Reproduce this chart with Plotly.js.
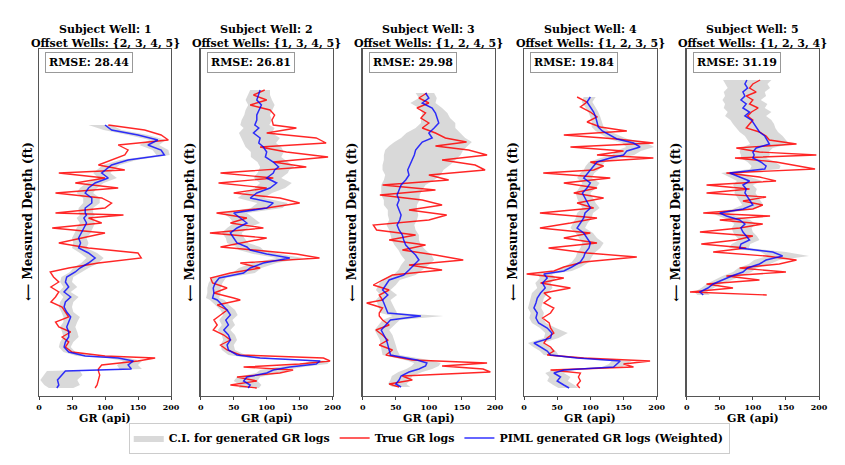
<!DOCTYPE html>
<html>
<head>
<meta charset="utf-8">
<script src="https://cdn.plot.ly/plotly-3.0.1.min.js"></script>
<style>html,body{margin:0;padding:0;background:#fff;}#chart{width:845px;height:465px;}</style>
</head>
<body>
<div id="chart"></div>
<script>
// ---- labels ----
const subjectWells = [1, 2, 3, 4, 5];
const offsetWells = ['{2, 3, 4, 5}', '{1, 3, 4, 5}', '{1, 2, 4, 5}', '{1, 2, 3, 5}', '{1, 2, 3, 4}'];
const rmseValues = [28.44, 26.81, 29.98, 19.84, 31.19];
const xTickVals = [0, 50, 100, 150, 200];
const legendNames = ['C.I. for generated GR logs', 'True GR logs', 'PIML generated GR logs (Weighted)'];

// ---- Well 1 ----
const depth1 = [760,810,860,910,960,1010,1060,1110,1160,1210,1240,1290,1340,1390,1440,1490,1540,1590,1640,1660,1690,1740,1790,1840,1890,1940,1990,2040,2090,2140,2190,2230,2280,2330,2380,2430,2480,2530,2580,2630,2680,2730,2780,2830,2880,2930,2980,3030,3070,3090,3120,3160,3200,3220,3260,3310,3360,3390];
const true1 = [105,160,185,196,120,135,130,110,90,130,30,100,55,120,25,95,110,100,25,128,75,95,20,100,65,30,75,150,155,90,45,17,22,30,18,30,25,18,35,40,45,25,30,48,35,45,40,50,100,176,150,95,90,90,92,90,88,85];
const piml1 = [100,110,150,180,165,185,190,135,110,100,95,105,85,75,70,80,80,70,70,72,68,72,68,65,60,63,60,75,85,75,62,55,42,40,45,38,48,40,38,42,48,45,42,45,45,40,38,45,70,120,143,135,140,40,35,28,30,27];
const lo1 = [75,98,135,168,152,172,178,122,97,87,82,90,72,62,57,67,67,60,60,62,57,62,57,54,50,52,50,62,72,64,52,47,34,32,37,30,37,32,30,34,37,37,32,35,37,32,30,37,57,104,128,118,122,12,8,2,8,15];
const hi1 = [110,125,165,192,182,196,198,148,122,112,108,118,98,88,82,92,92,82,82,85,80,85,82,78,72,75,72,88,98,90,75,65,52,50,58,48,60,52,50,52,62,58,55,58,60,52,48,55,82,136,156,150,156,62,66,58,62,52];

// ---- Well 2 ----
const depth2 = [410,460,510,560,610,660,710,760,790,840,890,940,980,1030,1080,1130,1180,1210,1240,1290,1340,1390,1440,1490,1540,1590,1640,1690,1740,1790,1840,1890,1940,1980,2010,2050,2090,2140,2190,2240,2290,2340,2390,2440,2490,2510,2560,2610,2660,2710,2760,2810,2860,2910,2960,3010,3060,3090,3120,3150,3180,3210,3240,3280,3320,3360,3390];
const true2 = [97,80,100,75,105,112,108,110,145,100,175,190,90,130,193,110,160,100,30,110,27,100,50,120,150,100,24,70,45,95,14,100,60,30,80,145,180,60,90,45,15,18,40,20,50,60,25,40,30,20,25,19,35,45,30,40,60,186,196,150,65,140,120,55,85,45,85];
const piml2 = [90,88,85,92,88,85,85,82,88,80,90,88,95,100,98,110,118,112,110,100,115,105,85,75,110,100,50,60,70,55,45,50,55,70,75,100,135,95,75,65,28,22,19,20,18,25,32,40,45,38,42,35,42,45,40,42,55,90,181,175,135,110,100,70,65,75,72];
const lo2 = [75,72,68,72,68,66,62,60,65,58,62,66,68,76,76,86,90,88,86,80,90,82,66,56,86,76,34,44,50,40,32,38,40,54,58,80,115,78,58,48,17,12,10,10,8,14,22,30,34,28,32,26,32,34,30,32,42,74,165,155,115,90,84,55,50,60,58];
const hi2 = [105,105,108,112,108,105,108,104,112,108,120,114,122,126,122,132,142,134,132,122,138,128,108,96,132,124,70,80,90,72,62,66,72,90,95,120,155,115,92,82,38,33,30,30,28,36,43,52,56,48,52,45,52,55,50,52,68,106,196,192,155,130,120,90,86,92,88];

// ---- Well 3 ----
const depth3 = [440,490,540,590,640,690,740,790,840,890,930,970,1010,1060,1110,1160,1210,1260,1310,1360,1410,1460,1510,1560,1610,1660,1710,1760,1810,1860,1910,1960,2010,2060,2110,2160,2210,2260,2310,2360,2410,2460,2510,2540,2590,2640,2670,2710,2760,2810,2860,2910,2960,3010,3060,3110,3140,3170,3200,3230,3270,3310,3350,3380];
const true3 = [97,85,100,82,95,88,100,90,110,125,157,110,160,188,120,170,185,100,130,30,110,26,90,120,70,127,100,16,21,80,40,95,60,110,152,70,120,45,30,16,40,25,30,6,30,25,25,30,40,20,30,38,25,45,35,75,188,120,182,193,60,75,40,55];
const piml3 = [95,100,90,105,110,112,115,108,100,105,90,85,80,78,75,72,68,70,65,58,55,52,55,52,55,58,56,52,55,60,62,65,72,80,85,78,70,62,40,35,30,38,30,32,35,38,88,42,35,28,32,36,38,40,42,82,97,95,85,70,58,55,50,58];
const lo3 = [80,85,72,85,90,88,88,80,66,58,48,40,34,32,32,30,30,34,32,28,28,28,32,32,38,38,40,36,40,42,44,48,54,58,64,58,54,46,28,24,20,27,20,22,24,27,45,30,24,18,22,26,27,29,30,64,78,74,66,54,44,42,38,45];
const hi3 = [108,112,110,120,128,132,140,140,148,155,165,158,152,148,140,132,122,118,108,95,90,86,86,82,82,84,82,78,80,85,85,88,95,104,108,100,90,80,56,50,42,52,42,45,48,52,122,56,48,40,45,48,50,52,56,100,118,115,105,90,75,72,66,72];

// ---- Well 4 ----
const depth4 = [480,530,580,630,680,730,780,820,860,900,940,980,1020,1060,1090,1130,1170,1210,1240,1290,1340,1390,1440,1490,1540,1590,1640,1690,1740,1790,1840,1890,1940,1990,2040,2080,2130,2180,2220,2250,2290,2340,2390,2440,2490,2540,2590,2640,2690,2740,2790,2840,2890,2940,2980,3020,3060,3090,3120,3150,3180,3210,3240,3280,3320,3360,3390];
const true4 = [80,95,85,100,110,95,115,155,60,140,195,70,150,110,195,100,120,105,29,130,60,110,75,120,80,105,24,110,70,24,100,60,110,37,95,170,90,60,45,4,60,25,70,30,40,30,45,40,28,38,40,45,35,30,40,45,35,90,190,150,165,40,85,82,85,80,84];
const piml4 = [100,95,100,105,108,110,112,118,130,140,165,175,155,150,130,110,105,100,95,90,100,95,88,92,95,100,92,90,85,80,90,95,100,98,92,90,85,72,60,30,35,28,32,25,20,18,15,20,18,22,35,42,40,15,25,35,40,80,145,140,135,60,45,55,50,60,68];
const lo4 = [90,87,92,97,100,102,102,108,118,128,148,154,138,133,115,98,93,90,85,80,88,83,78,80,83,88,80,78,74,70,78,83,88,85,80,78,72,60,48,20,24,17,20,12,10,8,6,10,8,12,24,32,30,6,14,24,30,68,132,128,118,44,32,38,35,44,52];
const hi4 = [108,103,108,112,115,118,120,128,142,156,185,196,176,166,146,122,117,112,106,102,114,108,100,104,108,114,104,102,96,92,104,110,120,115,106,102,98,86,72,42,48,40,43,36,30,28,26,30,28,33,48,66,52,28,38,48,52,96,162,156,148,76,60,70,66,76,82];

// ---- Well 5 ----
const depth5 = [310,350,390,430,470,510,550,590,630,670,710,750,790,830,870,910,950,990,1030,1060,1090,1130,1170,1200,1240,1280,1320,1360,1400,1440,1480,1520,1560,1600,1640,1670,1710,1750,1790,1830,1870,1910,1950,1990,2030,2070,2110,2150,2190,2230,2270,2310,2350,2390,2430,2460];
const true5 = [111,100,95,105,90,100,95,108,98,92,100,95,90,110,120,125,166,75,110,196,73,135,170,194,60,110,135,30,95,30,120,85,115,100,25,126,50,115,80,20,100,75,22,90,40,120,166,140,80,150,60,110,30,70,5,121];
const piml5 = [91,88,92,85,88,82,90,85,95,88,98,102,105,110,118,122,125,105,100,102,100,112,120,118,65,80,95,85,90,88,92,95,100,85,50,60,80,88,82,85,90,95,82,80,130,145,120,110,92,85,68,55,40,32,20,25];
const lo5 = [55,58,62,56,58,54,58,56,62,58,66,70,75,80,88,92,96,82,80,82,82,92,98,96,52,64,76,70,74,72,76,80,84,70,38,48,64,72,68,70,74,80,68,64,112,122,102,94,78,70,54,42,30,22,12,16];
const hi5 = [128,122,126,118,120,112,122,118,128,120,128,132,134,138,145,150,155,130,124,126,120,134,142,140,82,96,114,100,106,104,108,112,116,100,64,74,96,104,98,100,106,110,96,94,150,185,140,126,106,98,82,68,52,42,30,35];

const depths = [depth1, depth2, depth3, depth4, depth5];
const trues = [true1, true2, true3, true4, true5];
const pimls = [piml1, piml2, piml3, piml4, piml5];
const los = [lo1, lo2, lo3, lo4, lo5];
const his = [hi1, hi2, hi3, hi4, hi5];

// ---- layout geometry (fractions of the 845x465 canvas) ----
const W = 845, H = 465;
const panelPx = [[39, 171], [200.7, 332.7], [362.7, 495], [524, 656.7], [686.7, 819]];
const yDomain = [1 - 396 / H, 1 - 49 / H];
const font = {family: 'DejaVu Serif, serif', color: '#000', weight: 'bold'};

const traces = [];
const layout = {
  width: W, height: H,
  margin: {l: 0, r: 0, t: 0, b: 0},
  paper_bgcolor: '#fff', plot_bgcolor: '#fff',
  font: Object.assign({size: 11}, font),
  showlegend: true,
  legend: {
    orientation: 'h', x: 0.508, xanchor: 'center', y: 1 - 438 / H, yanchor: 'middle',
    bordercolor: '#cccccc', borderwidth: 1, bgcolor: '#fff',
    font: Object.assign({size: 11}, font), itemwidth: 30, tracegroupgap: 0
  },
  annotations: []
};

subjectWells.forEach((w, i) => {
  const n = i + 1;
  const xa = 'x' + (n === 1 ? '' : n), ya = 'y' + (n === 1 ? '' : n);
  const d = depths[i];
  traces.push({
    type: 'scatter', mode: 'lines', xaxis: xa, yaxis: ya,
    x: los[i].concat(his[i].slice().reverse()),
    y: d.concat(d.slice().reverse()),
    fill: 'toself', fillcolor: 'rgba(170,170,170,0.45)',
    line: {width: 0, color: 'rgba(170,170,170,0.45)'},
    name: legendNames[0], legendgroup: 'ci', showlegend: i === 0, hoverinfo: 'skip'
  });
  traces.push({
    type: 'scatter', mode: 'lines', xaxis: xa, yaxis: ya,
    x: trues[i], y: d,
    line: {color: 'rgba(255,0,0,0.85)', width: 1.4},
    name: legendNames[1], legendgroup: 'true', showlegend: i === 0
  });
  traces.push({
    type: 'scatter', mode: 'lines', xaxis: xa, yaxis: ya,
    x: pimls[i], y: d,
    line: {color: 'rgba(0,0,255,0.8)', width: 1.5},
    name: legendNames[2], legendgroup: 'piml', showlegend: i === 0
  });

  const axKeyX = 'xaxis' + (n === 1 ? '' : n), axKeyY = 'yaxis' + (n === 1 ? '' : n);
  layout[axKeyX] = {
    domain: [panelPx[i][0] / W, panelPx[i][1] / W],
    anchor: ya, range: [0, 200], tickvals: xTickVals, ticktext: xTickVals.map(String),
    ticks: 'outside', ticklen: 3, tickcolor: '#444', tickwidth: 1,
    tickfont: Object.assign({size: 8}, font),
    showline: true, mirror: true, linecolor: '#555', linewidth: 1.3,
    showgrid: false, zeroline: false, fixedrange: true
  };
  layout[axKeyY] = {
    domain: yDomain, anchor: xa, range: [3470, 0],
    showticklabels: false, ticks: '',
    showline: true, mirror: true, linecolor: '#555', linewidth: 1.3,
    showgrid: false, zeroline: false, fixedrange: true
  };

  const domRef = xa + ' domain';
  layout.annotations.push(
    {xref: domRef, yref: 'paper', x: 0.5, y: 1 - 30 / H, xanchor: 'center', yanchor: 'middle',
     text: 'Subject Well: ' + w, showarrow: false, font: Object.assign({size: 11}, font)},
    {xref: domRef, yref: 'paper', x: 0.5, y: 1 - 43 / H, xanchor: 'center', yanchor: 'middle',
     text: 'Offset Wells: ' + offsetWells[i], showarrow: false, font: Object.assign({size: 11}, font)},
    {xref: domRef, yref: 'paper', x: 0.045, y: 1 - 52 / H, xanchor: 'left', yanchor: 'top',
     text: 'RMSE: ' + rmseValues[i].toFixed(2), showarrow: false,
     bordercolor: '#999', borderwidth: 1, borderpad: 3, bgcolor: '#fff',
     font: Object.assign({size: 11}, font)},
    {xref: domRef, yref: 'paper', x: 0.5, y: 1 - 418 / H, xanchor: 'center', yanchor: 'middle',
     text: 'GR (api)', showarrow: false, font: Object.assign({size: 11}, font)},
    {xref: domRef, yref: 'paper', x: 0, xshift: -11, y: 1 - 222 / H, xanchor: 'center', yanchor: 'middle',
     text: '\u27F5 Measured Depth (ft)', textangle: -90, showarrow: false,
     font: Object.assign({size: 12}, font)}
  );
});

Plotly.newPlot('chart', traces, layout, {displayModeBar: false, staticPlot: true});
</script>
</body>
</html>
